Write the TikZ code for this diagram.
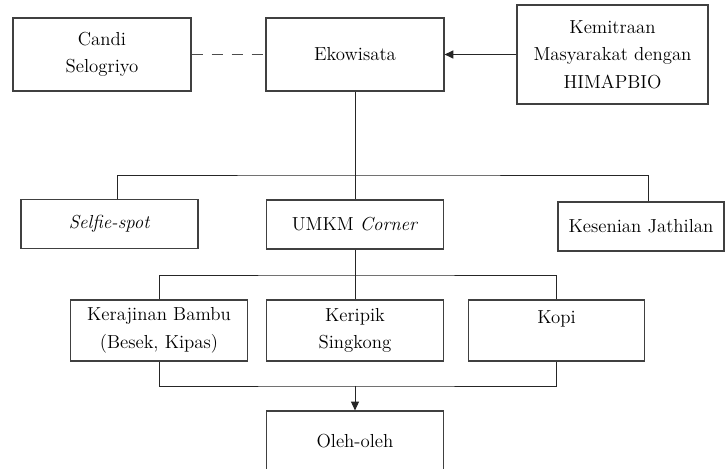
\documentclass[tikz,border=0pt]{standalone}
\usetikzlibrary{arrows.meta, positioning}

\begin{document}
\begin{tikzpicture}[
    box/.style={
        draw=black!75,
        line width=0.8pt,
        fill=white,
        minimum width=4.45cm,
        minimum height=1.825cm,
        align=center,
        inner sep=2pt,
        font=\rmfamily\fontsize{13.4}{19.5}\selectfont
    },
    lowbox/.style={
        box,
        minimum width=4.425cm,
        minimum height=1.225cm
    },
    itembox/.style={
        box,
        minimum width=4.42cm,
        minimum height=1.525cm
    },
    link/.style={draw=black!85, line width=0.6pt},
    dashlink/.style={draw=black!70, line width=1.1pt, dash pattern=on 0.28cm off 0.22cm},
    arrowlink/.style={link, -{Triangle[length=0.22cm, width=0.2cm]}}
]

    % Page frame
    \clip (0,0) rectangle (18.125,11.725);

    % Nodes Placement

    % Top row
    \node[box] (candi) at (2.55, 10.3625) {Candi\\Selogriyo};
    \node[box] (eko) at (8.875, 10.3625) {Ekowisata};
    \node[box, minimum width=4.775cm, minimum height=2.475cm] (kemitraan) at (15.3125, 10.3625) {Kemitraan\\Masyarakat dengan\\HIMAPBIO};

    % Attractions
    \node[lowbox] (selfie) at (2.7375, 6.125) {\textit{Selfie-spot}};
    \node[lowbox] (umkm) at (8.875, 6.1125) {UMKM \textit{Corner}};
    \node[lowbox, minimum width=4.15cm] (kesenian) at (16.025, 6.0625) {Kesenian Jathilan};

    % UMKM products
    \node[itembox] (kerajinan) at (3.975, 3.4625) {Kerajinan Bambu\\(Besek, Kipas)};
    \node[itembox] (keripik) at (8.875, 3.4625) {Keripik\\Singkong};
    \node[itembox] (kopi) at (13.9125, 3.4625) {Kopi\\~};

    % Result
    \node[box, minimum width=4.425cm, minimum height=1.5cm] (oleh) at (8.875, 0.7) {Oleh-oleh};

    % Bus points
    \coordinate (bus1) at (8.875, 7.35);
    \coordinate (bus2) at (8.875, 4.85);
    \coordinate (bus3) at (8.875, 2.075);

    % Connections
    \draw[dashlink] (candi) -- (eko);
    \draw[arrowlink, line width=1pt] (kemitraan) -- (eko);

    % Ekowisata -> attractions
    \draw[link] (eko) -- (umkm);
    \draw[link] ([xshift=0.2cm]selfie.north) |- (bus1) -| ([xshift=0.175cm]kesenian.north);

    % UMKM Corner -> products
    \draw[link] (umkm) -- (keripik);
    \draw[link] (kerajinan.north) |- (bus2) -| (kopi.north);

    % Products -> Oleh-oleh
    \draw[link] (kerajinan.south) |- (bus3) -| (kopi.south);
    \draw[arrowlink] (bus3) -- (oleh.north);

\end{tikzpicture}
\end{document}
